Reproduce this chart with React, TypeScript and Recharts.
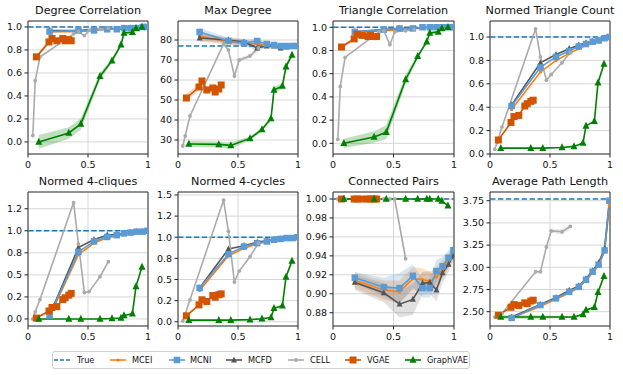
import React from 'react';
import { ComposedChart, Line, Area, XAxis, YAxis, CartesianGrid, ReferenceArea } from 'recharts';

const FONT = '"DejaVu Sans", sans-serif';

// ---------- shared x positions ----------
const xTicks = [0, 0.5, 1];
const xTickLabels = ['0', '0.5', '1'];
const mcX = [0.18, 0.42, 0.55, 0.66, 0.74, 0.8, 0.855, 0.905, 0.955, 0.995];
const cellX = [0.04, 0.06, 0.1, 0.38, 0.42, 0.47, 0.51, 0.6, 0.67];
const vgaeX = [0.07, 0.175, 0.2, 0.24, 0.29, 0.31, 0.34, 0.36];
const gvaeX = [0.09, 0.34, 0.44, 0.6, 0.7, 0.775, 0.8, 0.87, 0.9, 0.95];

const legendNames = ['True', 'MCEI', 'MCNI', 'MCFD', 'CELL', 'VGAE', 'GraphVAE'];
const titles = ['Degree Correlation', 'Max Degree', 'Triangle Correlation', 'Normed Triangle Count', 'Normed 4-cliques', 'Normed 4-cycles', 'Connected Pairs', 'Average Path Length'];

// ---------- Degree Correlation ----------
const dcTrue = 1.0;
const dcMCEI = [0.96, 0.96, 0.97, 0.98, 0.98, 0.98, 0.99, 0.99, 1.0, 1.0];
const dcMCNI = [0.96, 0.97, 0.97, 0.98, 0.98, 0.99, 0.99, 0.99, 1.0, 1.0];
const dcMCFD = [0.97, 0.97, 0.98, 0.98, 0.98, 0.99, 0.99, 0.99, 1.0, 1.0];
const dcCELL = [0.055, 0.533, 0.739, 0.94, 0.96, 0.925, 0.97, 0.98, 0.99];
const dcVGAE = [0.74, 0.87, 0.9, 0.88, 0.9, 0.88, 0.89, 0.88];
const dcVGAEsd = [0.015, 0.015, 0.015, 0.015, 0.015, 0.015, 0.015, 0.015];
const dcGVAE = [0.0, 0.078, 0.157, 0.571, 0.707, 0.846, 0.948, 0.954, 0.99, 1.0];
const dcGVAEsd = [0.06, 0.05, 0.05, 0.03, 0.02, 0.02, 0.01, 0.01, 0.01, 0.01];
const dcTicks = [0, 0.2, 0.4, 0.6, 0.8, 1.0];
const dcTickLabels = ['0.0', '0.2', '0.4', '0.6', '0.8', '1.0'];

// ---------- Max Degree ----------
const mdTrue = 77;
const mdMCEI = [82, 79, 78.5, 78, 77.5, 77, 77, 77, 77, 77];
const mdMCNI = [84, 79.5, 78.5, 79.5, 78, 77.5, 77, 77, 77, 77];
const mdMCFD = [81, 80, 79, 76, 77, 77, 76, 76.5, 77, 77];
const mdMCsd = [2, 1.5, 1.5, 1.5, 1, 1, 1, 1, 0.5, 0.5];
const mdCELL = [27, 32, 42, 78, 75, 62, 70, 72, 76];
const mdCELLsd = [0, 0, 0, 0.5, 0.5, 0.5, 1, 1, 1.5];
const mdVGAE = [51, 56.5, 59.5, 55, 56, 54, 55.5, 57.5];
const mdVGAEsd = [2, 1.5, 1.5, 1.5, 1.5, 1.5, 1.5, 1];
const mdGVAE = [28, 27.8, 27.3, 30.8, 35.3, 40.8, 55, 57, 66.7, 72.5];
const mdGVAEsd = [1.5, 1.5, 1.5, 1, 1, 1, 1.5, 1.5, 1.5, 1];
const mdTicks = [30, 40, 50, 60, 70, 80];
const mdTickLabels = ['30', '40', '50', '60', '70', '80'];

// ---------- Triangle Correlation ----------
const tcTrue = 1.0;
const tcMCEI = [0.95, 0.97, 0.98, 0.99, 0.99, 1, 1, 1, 1, 1];
const tcMCNI = [0.96, 0.98, 0.99, 0.99, 1, 1, 1, 1, 1, 1];
const tcMCFD = [0.96, 0.98, 0.99, 0.99, 1, 1, 1, 1, 1, 1];
const tcCELL = [0.034, 0.49, 0.74, 0.96, 0.97, 0.85, 0.96, 0.97, 0.98];
const tcVGAE = [0.83, 0.9, 0.94, 0.93, 0.92, 0.93, 0.92, 0.92];
const tcVGAEsd = [0.015, 0.015, 0.015, 0.015, 0.015, 0.015, 0.015, 0.015];
const tcGVAE = [0, 0.055, 0.095, 0.55, 0.75, 0.875, 0.95, 0.96, 0.99, 1.0];
const tcGVAEsd = [0.04, 0.05, 0.06, 0.04, 0.02, 0.01, 0.01, 0.01, 0.01, 0.005];

// ---------- Normed Triangle Count ----------
const ntcTrue = 1.0;
const ntcMCEI = [0.38, 0.7, 0.8, 0.86, 0.9, 0.93, 0.95, 0.97, 0.99, 1.0];
const ntcMCNI = [0.41, 0.74, 0.83, 0.88, 0.92, 0.94, 0.96, 0.97, 0.99, 1.0];
const ntcMCFD = [0.42, 0.78, 0.85, 0.9, 0.93, 0.95, 0.96, 0.97, 0.99, 1.0];
const ntcCELL = [0.04, 0.1, 0.23, 1.07, 0.83, 0.63, 0.68, 0.78, 0.87];
const ntcVGAE = [0.12, 0.27, 0.32, 0.33, 0.41, 0.43, 0.45, 0.46];
const ntcGVAE = [0.05, 0.05, 0.05, 0.055, 0.065, 0.095, 0.24, 0.28, 0.61, 0.77];

// ---------- Normed 4-cliques ----------
const n4qTrue = 1.0;
const n4qMCEI = [0.03, 0.73, 0.86, 0.92, 0.94, 0.96, 0.97, 0.98, 0.99, 1.0];
const n4qMCNI = [0.04, 0.76, 0.88, 0.93, 0.95, 0.97, 0.98, 0.99, 0.99, 1.0];
const n4qMCFD = [0.04, 0.81, 0.9, 0.95, 0.96, 0.97, 0.98, 0.99, 0.99, 1.0];
const n4qCELL = [0, 0.08, 0.22, 1.32, 0.85, 0.3, 0.31, 0.48, 0.65];
const n4qVGAE = [0.01, 0.09, 0.13, 0.14, 0.22, 0.24, 0.27, 0.29];
const n4qGVAE = [0, 0, 0, 0, 0.005, 0.01, 0.04, 0.06, 0.37, 0.59];
const qTicks = [0, 0.25, 0.5, 0.75, 1.0, 1.25];
const qTickLabels = ['0.0', '0.2', '0.5', '0.8', '1.0', '1.2'];

// ---------- Normed 4-cycles ----------
const n4cTrue = 1.0;
const n4cMCEI = [0.37, 0.78, 0.87, 0.92, 0.95, 0.96, 0.97, 0.98, 0.99, 1.0];
const n4cMCNI = [0.4, 0.8, 0.89, 0.93, 0.95, 0.97, 0.98, 0.99, 0.99, 1.0];
const n4cMCFD = [0.4, 0.86, 0.9, 0.94, 0.96, 0.97, 0.98, 0.99, 0.99, 1.0];
const n4cCELL = [0.01, 0.09, 0.26, 1.44, 1.07, 0.47, 0.6, 0.77, 0.93];
const n4cVGAE = [0.07, 0.2, 0.26, 0.24, 0.31, 0.29, 0.32, 0.33];
const n4cGVAE = [0.02, 0.02, 0.02, 0.025, 0.035, 0.05, 0.16, 0.19, 0.53, 0.72];
const cTicks = [0, 0.25, 0.5, 0.75, 1.0, 1.25, 1.5];
const cTickLabels = ['0.0', '0.2', '0.5', '0.8', '1.0', '1.2', '1.5'];

// ---------- Connected Pairs ----------
const cpTrue = 1.0;
const cpMCEI = [0.914, 0.904, 0.902, 0.916, 0.915, 0.913, 0.918, 0.926, 0.935, 0.944];
const cpMCNI = [0.917, 0.907, 0.906, 0.919, 0.906, 0.906, 0.924, 0.929, 0.938, 0.946];
const cpMCFD = [0.912, 0.901, 0.889, 0.894, 0.911, 0.912, 0.904, 0.922, 0.931, 0.94];
const cpMCEIsd = [0.008, 0.01, 0.012, 0.012, 0.012, 0.01, 0.01, 0.01, 0.008, 0.006];
const cpMCNIsd = [0.006, 0.01, 0.016, 0.012, 0.01, 0.01, 0.012, 0.01, 0.008, 0.006];
const cpMCFDsd = [0.008, 0.01, 0.014, 0.016, 0.012, 0.012, 0.012, 0.01, 0.008, 0.006];
const cpCELL = [1, 1, 1, 1, 1, 1, 1, 0.937, null];
const cpCELLsd = [0, 0, 0, 0, 0, 0, 0, 0.006, 0];
const cpVGAE = [1, 1, 1, 1, 1, 1, 1, 1];
const cpGVAE = [1, 1, 1, 1, 1, 1, 1, 1, 0.998, 0.993];
const cpTicks = [0.88, 0.9, 0.92, 0.94, 0.96, 0.98, 1.0];
const cpTickLabels = ['0.88', '0.90', '0.92', '0.94', '0.96', '0.98', '1.00'];

// ---------- Average Path Length ----------
const aplTrue = 3.77;
const aplMCEI = [2.43, 2.56, 2.64, 2.71, 2.77, 2.85, 2.94, 3.02, 3.18, 3.7];
const aplMCNI = [2.43, 2.575, 2.65, 2.725, 2.78, 2.86, 2.95, 3.03, 3.19, 3.75];
const aplMCFD = [2.44, 2.58, 2.66, 2.74, 2.79, 2.87, 2.96, 3.05, 3.21, 3.75];
const aplCELL = [2.44, 2.45, 2.48, 2.95, 2.95, 3.23, 3.41, 3.4, 3.46];
const aplCELLsd = [0, 0, 0, 0.01, 0.01, 0.01, 0.02, 0.03, 0.03];
const aplVGAE = [2.46, 2.55, 2.58, 2.57, 2.6, 2.59, 2.62, 2.63];
const aplGVAE = [2.44, 2.44, 2.44, 2.44, 2.44, 2.47, 2.52, 2.55, 2.72, 2.9];
const aplGVAEsd = [0.02, 0.02, 0.02, 0.01, 0.01, 0.01, 0.01, 0.01, 0.02, 0.02];
const aplTicks = [2.5, 2.75, 3.0, 3.25, 3.5, 3.75];
const aplTickLabels = ['2.50', '2.75', '3.00', '3.25', '3.50', '3.75'];

// ---------- styles ----------
const COL = {
  True: '#1f77b4',
  MCEI: '#ff7f0e',
  MCNI: '#5b9bd5',
  MCFD: '#555555',
  CELL: '#aaaaaa',
  VGAE: '#d35400',
  GraphVAE: '#008000',
};
const MARK: Record<string, { shape: string; size: number }> = {
  True: { shape: 'none', size: 0 },
  MCEI: { shape: 'circle', size: 1.6 },
  MCNI: { shape: 'square', size: 6.5 },
  MCFD: { shape: 'triangle', size: 6 },
  CELL: { shape: 'circle', size: 1.9 },
  VGAE: { shape: 'square', size: 7 },
  GraphVAE: { shape: 'triangle', size: 7 },
};

function Marker({ cx, cy, name }: any) {
  if (cx == null || cy == null || Number.isNaN(cx) || Number.isNaN(cy)) return <g />;
  const m = MARK[name];
  const c = (COL as any)[name];
  if (m.shape === 'square') {
    return <rect x={cx - m.size / 2} y={cy - m.size / 2} width={m.size} height={m.size} fill={c} />;
  }
  if (m.shape === 'triangle') {
    const s = m.size;
    const pts = `${cx},${cy - s * 0.6} ${cx - s / 2},${cy + s * 0.4} ${cx + s / 2},${cy + s * 0.4}`;
    return <polygon points={pts} fill={c} />;
  }
  if (m.shape === 'circle') return <circle cx={cx} cy={cy} r={m.size} fill={c} />;
  return <g />;
}

function rows(xs: number[], ys: (number | null)[], sd?: number[]) {
  return xs.map((x, i) => {
    const y = ys[i];
    return {
      x,
      y,
      band: sd && y != null ? [y - sd[i], y + sd[i]] : null,
    };
  });
}

type PanelDef = {
  title: string;
  left: number; right: number; top: number; bottom: number;
  domain: [number, number];
  ticks: number[]; tickLabels: string[];
  trueVal: number;
  mcei: number[]; mcni: number[]; mcfd: number[];
  cell: (number | null)[]; vgae: number[]; gvae: number[];
  mceiSd?: number[]; mcniSd?: number[]; mcfdSd?: number[];
  cellSd?: number[]; vgaeSd?: number[]; gvaeSd?: number[];
};

const TOP_ROW = { top: 21, bottom: 154 };
const BOT_ROW = { top: 192, bottom: 326 };
const COLS = [[28, 148], [178, 298], [333, 454], [490, 610]];

const panels: PanelDef[] = [
  { title: titles[0], left: COLS[0][0], right: COLS[0][1], ...TOP_ROW, domain: [-0.105, 1.052], ticks: dcTicks, tickLabels: dcTickLabels, trueVal: dcTrue,
    mcei: dcMCEI, mcni: dcMCNI, mcfd: dcMCFD, cell: dcCELL, vgae: dcVGAE, gvae: dcGVAE, vgaeSd: dcVGAEsd, gvaeSd: dcGVAEsd },
  { title: titles[1], left: COLS[1][0], right: COLS[1][1], ...TOP_ROW, domain: [23, 89.5], ticks: mdTicks, tickLabels: mdTickLabels, trueVal: mdTrue,
    mcei: mdMCEI, mcni: mdMCNI, mcfd: mdMCFD, cell: mdCELL, vgae: mdVGAE, gvae: mdGVAE,
    mceiSd: mdMCsd, mcniSd: mdMCsd, mcfdSd: mdMCsd, cellSd: mdCELLsd, vgaeSd: mdVGAEsd, gvaeSd: mdGVAEsd },
  { title: titles[2], left: COLS[2][0], right: COLS[2][1], ...TOP_ROW, domain: [-0.092, 1.054], ticks: dcTicks, tickLabels: dcTickLabels, trueVal: tcTrue,
    mcei: tcMCEI, mcni: tcMCNI, mcfd: tcMCFD, cell: tcCELL, vgae: tcVGAE, gvae: tcGVAE, vgaeSd: tcVGAEsd, gvaeSd: tcGVAEsd },
  { title: titles[3], left: COLS[3][0], right: COLS[3][1], ...TOP_ROW, domain: [0, 1.137], ticks: dcTicks, tickLabels: dcTickLabels, trueVal: ntcTrue,
    mcei: ntcMCEI, mcni: ntcMCNI, mcfd: ntcMCFD, cell: ntcCELL, vgae: ntcVGAE, gvae: ntcGVAE },
  { title: titles[4], left: COLS[0][0], right: COLS[0][1], ...BOT_ROW, domain: [-0.08, 1.44], ticks: qTicks, tickLabels: qTickLabels, trueVal: n4qTrue,
    mcei: n4qMCEI, mcni: n4qMCNI, mcfd: n4qMCFD, cell: n4qCELL, vgae: n4qVGAE, gvae: n4qGVAE },
  { title: titles[5], left: COLS[1][0], right: COLS[1][1], ...BOT_ROW, domain: [-0.05, 1.535], ticks: cTicks, tickLabels: cTickLabels, trueVal: n4cTrue,
    mcei: n4cMCEI, mcni: n4cMCNI, mcfd: n4cMCFD, cell: n4cCELL, vgae: n4cVGAE, gvae: n4cGVAE },
  { title: titles[6], left: COLS[2][0], right: COLS[2][1], ...BOT_ROW, domain: [0.866, 1.0074], ticks: cpTicks, tickLabels: cpTickLabels, trueVal: cpTrue,
    mcei: cpMCEI, mcni: cpMCNI, mcfd: cpMCFD, cell: cpCELL, vgae: cpVGAE, gvae: cpGVAE,
    mceiSd: cpMCEIsd, mcniSd: cpMCNIsd, mcfdSd: cpMCFDsd, cellSd: cpCELLsd },
  { title: titles[7], left: COLS[3][0], right: COLS[3][1], ...BOT_ROW, domain: [2.339, 3.848], ticks: aplTicks, tickLabels: aplTickLabels, trueVal: aplTrue,
    mcei: aplMCEI, mcni: aplMCNI, mcfd: aplMCFD, cell: aplCELL, vgae: aplVGAE, gvae: aplGVAE, cellSd: aplCELLsd, gvaeSd: aplGVAEsd },
];

function Panel({ p }: { p: PanelDef }) {
  const YW = 34, MT = 8, MR = 10, XH = 22;
  const w = p.right - p.left;
  const h = p.bottom - p.top;
  const series = [
    { name: 'MCEI', data: rows(mcX, p.mcei, p.mceiSd), sd: p.mceiSd },
    { name: 'MCFD', data: rows(mcX, p.mcfd, p.mcfdSd), sd: p.mcfdSd },
    { name: 'MCNI', data: rows(mcX, p.mcni, p.mcniSd), sd: p.mcniSd },
    { name: 'CELL', data: rows(cellX, p.cell, p.cellSd), sd: p.cellSd },
    { name: 'VGAE', data: rows(vgaeX, p.vgae, p.vgaeSd), sd: p.vgaeSd },
    { name: 'GraphVAE', data: rows(gvaeX, p.gvae, p.gvaeSd), sd: p.gvaeSd },
  ];
  const trueRows = [{ x: 0, y: p.trueVal }, { x: 1, y: p.trueVal }];
  const tickStyle = { fontSize: 9.5, fontFamily: FONT, fill: '#111' };
  return (
    <>
      <div style={{ position: 'absolute', left: p.left + w / 2, top: p.top - 17, transform: 'translateX(-50%)', whiteSpace: 'nowrap', fontFamily: FONT, fontSize: 11.2, lineHeight: '13px', color: '#111' }}>
        {p.title}
      </div>
      <div style={{ position: 'absolute', left: p.left - YW, top: p.top - MT }}>
        <ComposedChart width={YW + w + MR} height={MT + h + XH} margin={{ top: MT, right: MR, left: 0, bottom: 0 }}>
          <CartesianGrid stroke="#d6d6d6" strokeWidth={1} />
          <XAxis dataKey="x" type="number" domain={[0, 1]} ticks={xTicks} allowDataOverflow interval={0}
            tickFormatter={(v: number) => xTickLabels[xTicks.indexOf(v)] ?? ''}
            axisLine={false} tickLine={{ stroke: '#222' }} tickSize={3.5} tickMargin={4} height={XH} tick={tickStyle} />
          <YAxis type="number" domain={p.domain} ticks={p.ticks} allowDataOverflow interval={0}
            tickFormatter={(v: number) => p.tickLabels[p.ticks.indexOf(v)] ?? ''}
            axisLine={false} tickLine={{ stroke: '#222' }} tickSize={3.5} tickMargin={2.5} width={YW} tick={tickStyle} />
          {series.filter((s) => s.sd).map((s) => (
            <Area key={'band-' + s.name} data={s.data} dataKey="band" type="linear" stroke="none"
              fill={(COL as any)[s.name]} fillOpacity={s.name === 'MCFD' ? 0.18 : 0.25} isAnimationActive={false} dot={false} activeDot={false} />
          ))}
          <Line data={trueRows} dataKey="y" type="linear" stroke={COL.True} strokeWidth={1.6} strokeDasharray="5.5 2.4"
            dot={false} activeDot={false} isAnimationActive={false} />
          {series.map((s) => (
            <Line key={s.name} data={s.data} dataKey="y" type="linear" stroke={(COL as any)[s.name]} strokeWidth={1.6}
              dot={(d: any) => <Marker key={s.name + d.index} cx={d.cx} cy={d.cy} name={s.name} />}
              activeDot={false} isAnimationActive={false} />
          ))}
          <ReferenceArea x1={0} x2={1} y1={p.domain[0]} y2={p.domain[1]} fill="none" stroke="#222" strokeWidth={0.9} ifOverflow="visible" />
        </ComposedChart>
      </div>
    </>
  );
}

const legendLayout = [
  { line: 53, text: 77 },
  { line: 109, text: 132 },
  { line: 168, text: 190 },
  { line: 225, text: 248 },
  { line: 287, text: 310 },
  { line: 344, text: 367 },
  { line: 404, text: 427 },
];

function Legend() {
  return (
    <div style={{ position: 'absolute', left: 52, top: 351, width: 416, height: 16, border: '1px solid #d0d0d0', borderRadius: 3, background: '#fff' }}>
      {legendNames.map((n, i) => {
        const L = legendLayout[i];
        const c = (COL as any)[n];
        return (
          <React.Fragment key={n}>
            <svg style={{ position: 'absolute', left: L.line - 53, top: 0 }} width={18} height={16}>
              <line x1={1} y1={8} x2={17} y2={8} stroke={c} strokeWidth={1.6} strokeDasharray={n === 'True' ? '4 2' : undefined} />
              <Marker cx={9} cy={8} name={n} />
            </svg>
            <div style={{ position: 'absolute', left: L.text - 53, top: 0, lineHeight: '16px', fontFamily: FONT, fontSize: 8.2, color: '#111', whiteSpace: 'nowrap' }}>{n}</div>
          </React.Fragment>
        );
      })}
    </div>
  );
}

export default function App() {
  return (
    <div style={{ position: 'fixed', left: 0, top: 0, width: 623, height: 375, background: '#fff', overflow: 'hidden' }}>
      {panels.map((p) => (
        <Panel key={p.title} p={p} />
      ))}
      <Legend />
    </div>
  );
}
